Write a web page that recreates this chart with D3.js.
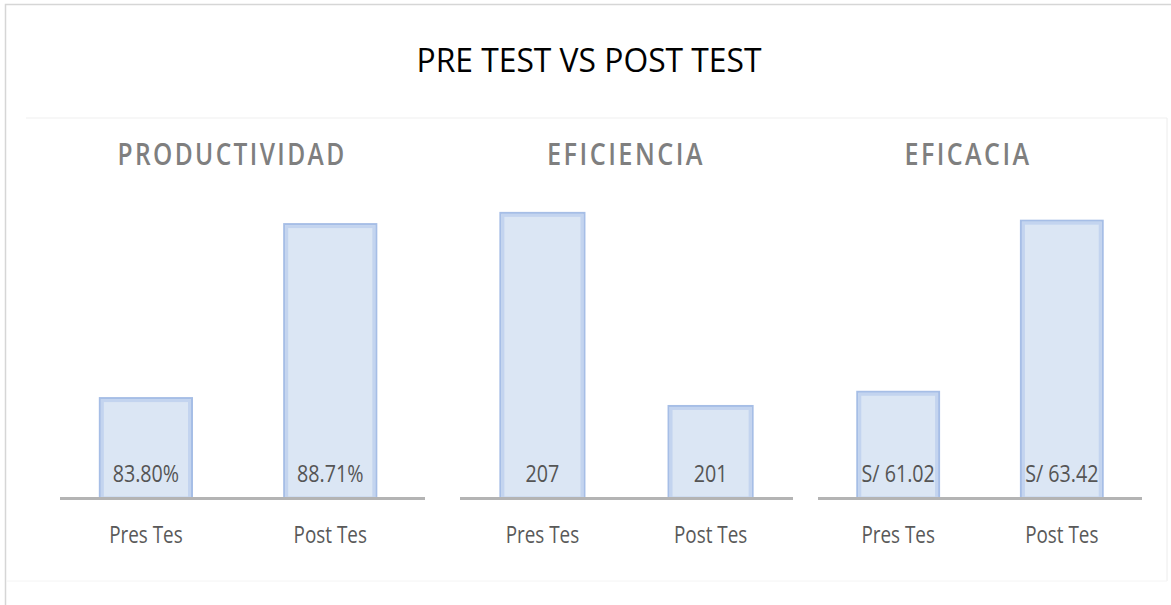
<!DOCTYPE html>
<html>
<head>
<meta charset="utf-8">
<script src="https://cdn.jsdelivr.net/npm/d3@7"></script>
<style>
  body { margin: 0; background: #fff; }
  svg { display: block; }
</style>
</head>
<body>
<script>
// data
var chartTitle = "PRE TEST VS POST TEST";
var panelTitles = ["PRODUCTIVIDAD", "EFICIENCIA", "EFICACIA"];
var categories = ["Pres Tes", "Post Tes"];
var productividad = [83.80, 88.71];
var eficiencia = [207, 201];
var eficacia = [61.02, 63.42];
var valueLabels = [["83.80%", "88.71%"], ["207", "201"], ["S/ 61.02", "S/ 63.42"]];
// value axis is not zero based in the original (min, max)
var axisDomains = [[80.98, 89.39], [198.14, 207.4], [59.53, 63.71]];

var series = [productividad, eficiencia, eficacia];

// layout
var W = 1171, H = 605;
var baseY = 498, topY = 200;
var panels = [
  {x0: 60, x1: 425, title: 232, titleW: 229, align: 0.45},
  {x0: 460, x1: 793, title: 626, titleW: 158, align: 0.5},
  {x0: 818, x1: 1142, title: 968, titleW: 127, align: 0.5}
];
var font = "'Open Sans', 'Liberation Sans', sans-serif";

// no condensed font installed, so squeeze the text horizontally
function condense(sel, k) {
    sel.each(function() {
        var len = this.getComputedTextLength();
        d3.select(this)
            .attr("textLength", len * k)
            .attr("lengthAdjust", "spacingAndGlyphs");
    });
}

var svg = d3.select("body").append("svg")
    .attr("width", W)
    .attr("height", H);

// outer frame + pasted image edges
svg.append("rect")
    .attr("x", 5.5).attr("y", 4.5)
    .attr("width", W + 10).attr("height", H + 10)
    .attr("fill", "none")
    .attr("stroke", "#d6d6d6")
    .attr("stroke-width", 1.5);
svg.append("line")
    .attr("x1", 26).attr("x2", 1167)
    .attr("y1", 118).attr("y2", 118)
    .attr("stroke", "#efefef");
svg.append("line")
    .attr("x1", 1167).attr("x2", 1167)
    .attr("y1", 118).attr("y2", 581)
    .attr("stroke", "#ececec");
svg.append("line")
    .attr("x1", 6).attr("x2", 1167)
    .attr("y1", 581).attr("y2", 581)
    .attr("stroke", "#f4f4f4");

svg.append("text")
    .attr("x", 589)
    .attr("y", 72)
    .attr("text-anchor", "middle")
    .attr("font-family", font)
    .attr("font-size", 33)
    .attr("textLength", 345)
    .attr("lengthAdjust", "spacingAndGlyphs")
    .attr("fill", "#000")
    .text(chartTitle);

panels.forEach(function(p, i) {
    var x = d3.scaleBand()
        .domain(categories)
        .range([p.x0, p.x1])
        .paddingInner(0.5)
        .paddingOuter(0.24)
        .align(p.align);

    var y = d3.scaleLinear()
        .domain(axisDomains[i])
        .range([baseY, topY]);

    var g = svg.append("g");

    g.append("text")
        .attr("x", p.title)
        .attr("y", 165)
        .attr("text-anchor", "middle")
        .attr("font-family", font)
        .attr("font-weight", 600)
        .attr("font-size", 31)
        .attr("letter-spacing", 3)
        .attr("textLength", p.titleW)
        .attr("lengthAdjust", "spacingAndGlyphs")
        .attr("fill", "#7f7f7f")
        .text(panelTitles[i]);

    var data = series[i].map(function(v, j) { return {cat: categories[j], v: v, label: valueLabels[i][j]}; });

    g.selectAll("rect.bar")
        .data(data)
        .enter()
        .append("rect")
        .attr("class", "bar")
        .attr("x", function(d) { return x(d.cat); })
        .attr("y", function(d) { return y(d.v); })
        .attr("width", x.bandwidth())
        .attr("height", function(d) { return baseY - y(d.v); })
        .attr("fill", "#dbe6f4")
        .attr("stroke", "#a6bee6")
        .attr("stroke-width", 2);

    // soft inner edge
    g.selectAll("rect.glow")
        .data(data)
        .enter()
        .append("rect")
        .attr("class", "glow")
        .attr("x", function(d) { return x(d.cat) + 2.5; })
        .attr("y", function(d) { return y(d.v) + 2.5; })
        .attr("width", x.bandwidth() - 5)
        .attr("height", function(d) { return baseY - y(d.v) - 2.5; })
        .attr("fill", "none")
        .attr("stroke", "#c3d4ef")
        .attr("stroke-width", 3);

    g.append("line")
        .attr("x1", p.x0).attr("x2", p.x1)
        .attr("y1", baseY + 0.5).attr("y2", baseY + 0.5)
        .attr("stroke", "#b4b4b4")
        .attr("stroke-width", 3);

    g.selectAll("text.val")
        .data(data)
        .enter()
        .append("text")
        .attr("class", "val")
        .attr("x", function(d) { return x(d.cat) + x.bandwidth() / 2; })
        .attr("y", 482)
        .attr("text-anchor", "middle")
        .attr("font-family", font)
        .attr("font-size", 24)
        .attr("fill", "#555")
        .text(function(d) { return d.label; })
        .call(condense, 0.82);

    g.selectAll("text.cat")
        .data(data)
        .enter()
        .append("text")
        .attr("class", "cat")
        .attr("x", function(d) { return x(d.cat) + x.bandwidth() / 2; })
        .attr("y", 543)
        .attr("text-anchor", "middle")
        .attr("font-family", font)
        .attr("font-size", 23)
        .attr("fill", "#595959")
        .text(function(d) { return d.cat; })
        .call(condense, 0.82);
});
</script>
</body>
</html>
